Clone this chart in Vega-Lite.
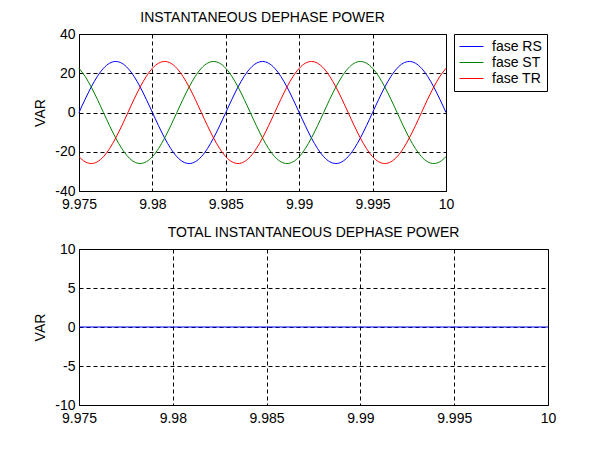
{
  "$schema": "https://vega.github.io/schema/vega-lite/v6.json",
  "background": "white",
  "padding": {"left": 33, "top": 10, "right": 5, "bottom": 5},
  "spacing": 13,
  "config": {
    "font": "Liberation Sans",
    "view": {"stroke": "black", "strokeWidth": 1},
    "axis": {
      "domain": false, "ticks": false, "grid": true, "labelFlush": false,
      "gridColor": "black", "gridDash": [4, 3], "gridOpacity": 1, "gridWidth": 1,
      "labelFont": "Liberation Sans", "labelFontSize": 14, "labelColor": "black", "labelPadding": 4,
      "titleFont": "Liberation Sans", "titleFontSize": 14, "titleFontWeight": "normal", "titleColor": "black", "titlePadding": 7
    },
    "axisX": {"labelPadding": 6},
    "title": {"font": "Liberation Sans", "fontSize": 14, "fontWeight": "normal", "color": "black", "offset": 2},
    "legend": {
      "orient": "none", "legendX": 375, "legendY": 0,
      "strokeColor": "black", "fillColor": "white", "padding": 5,
      "symbolType": "stroke", "symbolSize": 576, "symbolStrokeWidth": 1,
      "labelFont": "Liberation Sans", "labelFontSize": 14, "labelColor": "black", "labelOffset": 8,
      "clipHeight": 15, "rowPadding": 1
    }
  },
  "vconcat": [
    {
      "width": 367,
      "height": 157,
      "title": "INSTANTANEOUS DEPHASE POWER",
      "data": {"values": [
        {"t":9.975,"s":"fase RS","v":0},{"t":9.975417,"s":"fase RS","v":6.73},{"t":9.975833,"s":"fase RS","v":13},{"t":9.97625,"s":"fase RS","v":18.38},{"t":9.976667,"s":"fase RS","v":22.52},{"t":9.977083,"s":"fase RS","v":25.11},
        {"t":9.9775,"s":"fase RS","v":26},{"t":9.977917,"s":"fase RS","v":25.11},{"t":9.978333,"s":"fase RS","v":22.52},{"t":9.97875,"s":"fase RS","v":18.38},{"t":9.979167,"s":"fase RS","v":13},{"t":9.979583,"s":"fase RS","v":6.73},
        {"t":9.98,"s":"fase RS","v":0},{"t":9.980417,"s":"fase RS","v":-6.73},{"t":9.980833,"s":"fase RS","v":-13},{"t":9.98125,"s":"fase RS","v":-18.38},{"t":9.981667,"s":"fase RS","v":-22.52},{"t":9.982083,"s":"fase RS","v":-25.11},
        {"t":9.9825,"s":"fase RS","v":-26},{"t":9.982917,"s":"fase RS","v":-25.11},{"t":9.983333,"s":"fase RS","v":-22.52},{"t":9.98375,"s":"fase RS","v":-18.38},{"t":9.984167,"s":"fase RS","v":-13},{"t":9.984583,"s":"fase RS","v":-6.73},
        {"t":9.985,"s":"fase RS","v":0},{"t":9.985417,"s":"fase RS","v":6.73},{"t":9.985833,"s":"fase RS","v":13},{"t":9.98625,"s":"fase RS","v":18.38},{"t":9.986667,"s":"fase RS","v":22.52},{"t":9.987083,"s":"fase RS","v":25.11},
        {"t":9.9875,"s":"fase RS","v":26},{"t":9.987917,"s":"fase RS","v":25.11},{"t":9.988333,"s":"fase RS","v":22.52},{"t":9.98875,"s":"fase RS","v":18.38},{"t":9.989167,"s":"fase RS","v":13},{"t":9.989583,"s":"fase RS","v":6.73},
        {"t":9.99,"s":"fase RS","v":0},{"t":9.990417,"s":"fase RS","v":-6.73},{"t":9.990833,"s":"fase RS","v":-13},{"t":9.99125,"s":"fase RS","v":-18.38},{"t":9.991667,"s":"fase RS","v":-22.52},{"t":9.992083,"s":"fase RS","v":-25.11},
        {"t":9.9925,"s":"fase RS","v":-26},{"t":9.992917,"s":"fase RS","v":-25.11},{"t":9.993333,"s":"fase RS","v":-22.52},{"t":9.99375,"s":"fase RS","v":-18.38},{"t":9.994167,"s":"fase RS","v":-13},{"t":9.994583,"s":"fase RS","v":-6.73},
        {"t":9.995,"s":"fase RS","v":0},{"t":9.995417,"s":"fase RS","v":6.73},{"t":9.995833,"s":"fase RS","v":13},{"t":9.99625,"s":"fase RS","v":18.38},{"t":9.996667,"s":"fase RS","v":22.52},{"t":9.997083,"s":"fase RS","v":25.11},
        {"t":9.9975,"s":"fase RS","v":26},{"t":9.997917,"s":"fase RS","v":25.11},{"t":9.998333,"s":"fase RS","v":22.52},{"t":9.99875,"s":"fase RS","v":18.38},{"t":9.999167,"s":"fase RS","v":13},{"t":9.999583,"s":"fase RS","v":6.73},
        {"t":10,"s":"fase RS","v":0},

        {"t":9.975,"s":"fase ST","v":22.52},{"t":9.975417,"s":"fase ST","v":18.38},{"t":9.975833,"s":"fase ST","v":13},{"t":9.97625,"s":"fase ST","v":6.73},{"t":9.976667,"s":"fase ST","v":0},{"t":9.977083,"s":"fase ST","v":-6.73},
        {"t":9.9775,"s":"fase ST","v":-13},{"t":9.977917,"s":"fase ST","v":-18.38},{"t":9.978333,"s":"fase ST","v":-22.52},{"t":9.97875,"s":"fase ST","v":-25.11},{"t":9.979167,"s":"fase ST","v":-26},{"t":9.979583,"s":"fase ST","v":-25.11},
        {"t":9.98,"s":"fase ST","v":-22.52},{"t":9.980417,"s":"fase ST","v":-18.38},{"t":9.980833,"s":"fase ST","v":-13},{"t":9.98125,"s":"fase ST","v":-6.73},{"t":9.981667,"s":"fase ST","v":0},{"t":9.982083,"s":"fase ST","v":6.73},
        {"t":9.9825,"s":"fase ST","v":13},{"t":9.982917,"s":"fase ST","v":18.38},{"t":9.983333,"s":"fase ST","v":22.52},{"t":9.98375,"s":"fase ST","v":25.11},{"t":9.984167,"s":"fase ST","v":26},{"t":9.984583,"s":"fase ST","v":25.11},
        {"t":9.985,"s":"fase ST","v":22.52},{"t":9.985417,"s":"fase ST","v":18.38},{"t":9.985833,"s":"fase ST","v":13},{"t":9.98625,"s":"fase ST","v":6.73},{"t":9.986667,"s":"fase ST","v":0},{"t":9.987083,"s":"fase ST","v":-6.73},
        {"t":9.9875,"s":"fase ST","v":-13},{"t":9.987917,"s":"fase ST","v":-18.38},{"t":9.988333,"s":"fase ST","v":-22.52},{"t":9.98875,"s":"fase ST","v":-25.11},{"t":9.989167,"s":"fase ST","v":-26},{"t":9.989583,"s":"fase ST","v":-25.11},
        {"t":9.99,"s":"fase ST","v":-22.52},{"t":9.990417,"s":"fase ST","v":-18.38},{"t":9.990833,"s":"fase ST","v":-13},{"t":9.99125,"s":"fase ST","v":-6.73},{"t":9.991667,"s":"fase ST","v":0},{"t":9.992083,"s":"fase ST","v":6.73},
        {"t":9.9925,"s":"fase ST","v":13},{"t":9.992917,"s":"fase ST","v":18.38},{"t":9.993333,"s":"fase ST","v":22.52},{"t":9.99375,"s":"fase ST","v":25.11},{"t":9.994167,"s":"fase ST","v":26},{"t":9.994583,"s":"fase ST","v":25.11},
        {"t":9.995,"s":"fase ST","v":22.52},{"t":9.995417,"s":"fase ST","v":18.38},{"t":9.995833,"s":"fase ST","v":13},{"t":9.99625,"s":"fase ST","v":6.73},{"t":9.996667,"s":"fase ST","v":0},{"t":9.997083,"s":"fase ST","v":-6.73},
        {"t":9.9975,"s":"fase ST","v":-13},{"t":9.997917,"s":"fase ST","v":-18.38},{"t":9.998333,"s":"fase ST","v":-22.52},{"t":9.99875,"s":"fase ST","v":-25.11},{"t":9.999167,"s":"fase ST","v":-26},{"t":9.999583,"s":"fase ST","v":-25.11},
        {"t":10,"s":"fase ST","v":-22.52},

        {"t":9.975,"s":"fase TR","v":-22.52},{"t":9.975417,"s":"fase TR","v":-25.11},{"t":9.975833,"s":"fase TR","v":-26},{"t":9.97625,"s":"fase TR","v":-25.11},{"t":9.976667,"s":"fase TR","v":-22.52},{"t":9.977083,"s":"fase TR","v":-18.38},
        {"t":9.9775,"s":"fase TR","v":-13},{"t":9.977917,"s":"fase TR","v":-6.73},{"t":9.978333,"s":"fase TR","v":0},{"t":9.97875,"s":"fase TR","v":6.73},{"t":9.979167,"s":"fase TR","v":13},{"t":9.979583,"s":"fase TR","v":18.38},
        {"t":9.98,"s":"fase TR","v":22.52},{"t":9.980417,"s":"fase TR","v":25.11},{"t":9.980833,"s":"fase TR","v":26},{"t":9.98125,"s":"fase TR","v":25.11},{"t":9.981667,"s":"fase TR","v":22.52},{"t":9.982083,"s":"fase TR","v":18.38},
        {"t":9.9825,"s":"fase TR","v":13},{"t":9.982917,"s":"fase TR","v":6.73},{"t":9.983333,"s":"fase TR","v":0},{"t":9.98375,"s":"fase TR","v":-6.73},{"t":9.984167,"s":"fase TR","v":-13},{"t":9.984583,"s":"fase TR","v":-18.38},
        {"t":9.985,"s":"fase TR","v":-22.52},{"t":9.985417,"s":"fase TR","v":-25.11},{"t":9.985833,"s":"fase TR","v":-26},{"t":9.98625,"s":"fase TR","v":-25.11},{"t":9.986667,"s":"fase TR","v":-22.52},{"t":9.987083,"s":"fase TR","v":-18.38},
        {"t":9.9875,"s":"fase TR","v":-13},{"t":9.987917,"s":"fase TR","v":-6.73},{"t":9.988333,"s":"fase TR","v":0},{"t":9.98875,"s":"fase TR","v":6.73},{"t":9.989167,"s":"fase TR","v":13},{"t":9.989583,"s":"fase TR","v":18.38},
        {"t":9.99,"s":"fase TR","v":22.52},{"t":9.990417,"s":"fase TR","v":25.11},{"t":9.990833,"s":"fase TR","v":26},{"t":9.99125,"s":"fase TR","v":25.11},{"t":9.991667,"s":"fase TR","v":22.52},{"t":9.992083,"s":"fase TR","v":18.38},
        {"t":9.9925,"s":"fase TR","v":13},{"t":9.992917,"s":"fase TR","v":6.73},{"t":9.993333,"s":"fase TR","v":0},{"t":9.99375,"s":"fase TR","v":-6.73},{"t":9.994167,"s":"fase TR","v":-13},{"t":9.994583,"s":"fase TR","v":-18.38},
        {"t":9.995,"s":"fase TR","v":-22.52},{"t":9.995417,"s":"fase TR","v":-25.11},{"t":9.995833,"s":"fase TR","v":-26},{"t":9.99625,"s":"fase TR","v":-25.11},{"t":9.996667,"s":"fase TR","v":-22.52},{"t":9.997083,"s":"fase TR","v":-18.38},
        {"t":9.9975,"s":"fase TR","v":-13},{"t":9.997917,"s":"fase TR","v":-6.73},{"t":9.998333,"s":"fase TR","v":0},{"t":9.99875,"s":"fase TR","v":6.73},{"t":9.999167,"s":"fase TR","v":13},{"t":9.999583,"s":"fase TR","v":18.38},
        {"t":10,"s":"fase TR","v":22.52}
      ]},
      "mark": {"type": "line", "strokeWidth": 1, "interpolate": "monotone"},
      "encoding": {
        "x": {"field": "t", "type": "quantitative", "scale": {"domain": [9.975, 10], "nice": false, "zero": false},
              "axis": {"title": null, "values": [9.975, 9.98, 9.985, 9.99, 9.995, 10], "labelExpr": "'' + datum.value"}},
        "y": {"field": "v", "type": "quantitative", "scale": {"domain": [-40, 40], "nice": false},
              "axis": {"title": "VAR", "values": [-40, -20, 0, 20, 40], "labelExpr": "'' + datum.value"}},
        "color": {"field": "s", "type": "nominal",
                  "scale": {"domain": ["fase RS", "fase ST", "fase TR"], "range": ["#0000ff", "#008000", "#ff0000"]},
                  "legend": {"title": null, "labelExpr": "datum.label + '     '"}}
      }
    },
    {
      "width": 469,
      "height": 156,
      "title": "TOTAL INSTANTANEOUS DEPHASE POWER",
      "data": {"values": [
        {"t":9.975,"v":0},{"t":9.98,"v":0},{"t":9.985,"v":0},{"t":9.99,"v":0},{"t":9.995,"v":0},{"t":10,"v":0}
      ]},
      "mark": {"type": "line", "strokeWidth": 1, "color": "#0000ff"},
      "encoding": {
        "x": {"field": "t", "type": "quantitative", "scale": {"domain": [9.975, 10], "nice": false, "zero": false},
              "axis": {"title": null, "values": [9.975, 9.98, 9.985, 9.99, 9.995, 10], "labelExpr": "'' + datum.value"}},
        "y": {"field": "v", "type": "quantitative", "scale": {"domain": [-10, 10], "nice": false},
              "axis": {"title": "VAR", "values": [-10, -5, 0, 5, 10], "labelExpr": "'' + datum.value"}}
      }
    }
  ]
}
